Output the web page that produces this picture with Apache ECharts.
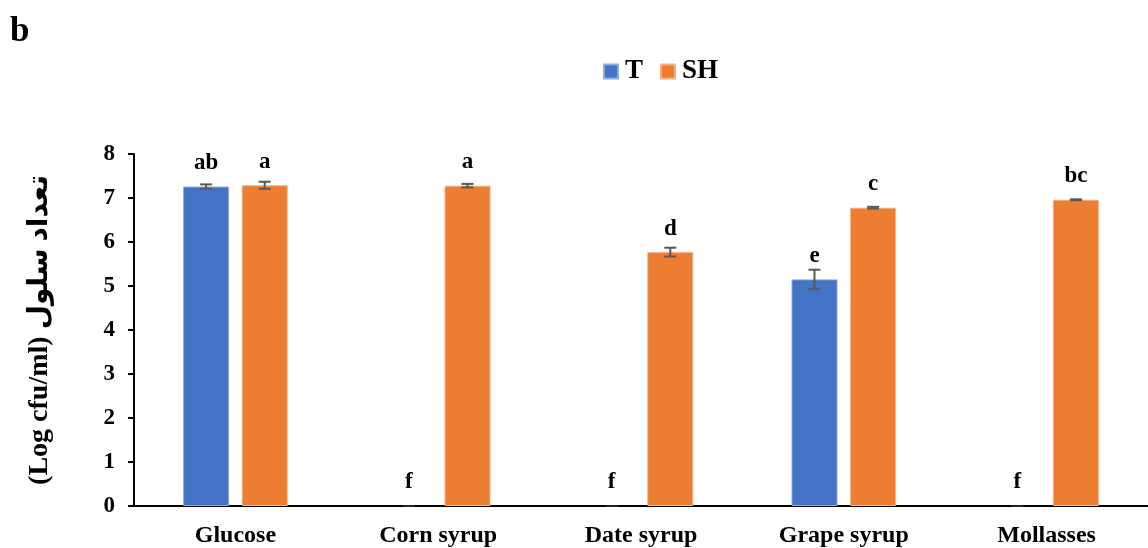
<!DOCTYPE html>
<html>
<head>
<meta charset="utf-8">
<script src="https://cdn.jsdelivr.net/npm/echarts@6/dist/echarts.min.js"></script>
<style>
html,body{margin:0;padding:0;background:#fff;}
#chart{width:1148px;height:548px;}
</style>
</head>
<body>
<div id="chart"></div>
<script>
// ---- data ----
const categories = ['Glucose', 'Corn syrup', 'Date syrup', 'Grape syrup', 'Mollasses'];
const seriesNames = ['T', 'SH'];
const valuesT  = [7.26, 0, 0, 5.15, 0];
const valuesSH = [7.29, 7.28, 5.77, 6.78, 6.96];
const errT  = [0.05, 0, 0, 0.22, 0];
const errSH = [0.08, 0.04, 0.10, 0.02, 0.01];
const lettersT  = ['ab', 'f', 'f', 'e', 'f'];
const lettersSH = ['a', 'a', 'd', 'c', 'bc'];
const yTicks = [0, 1, 2, 3, 4, 5, 6, 7, 8];
const panelLabel = 'b';
const yTitle = '(Log cfu/ml) تعداد سلول';

// ---- style ----
const FONT = "'Liberation Serif', 'Times New Roman', 'DejaVu Sans', serif";
const COLORS = ['#4472C4', '#ED7D31'];
const EDGE = ['#8FAADC', '#F4B183'];
const BAR_W = 46;
const BAR_GAP_PX = 12.6;
const OFFSET = (BAR_W + BAR_GAP_PX) / 2;

const chart = echarts.init(document.getElementById('chart'), null, {renderer: 'canvas'});

function errSeries(vals, errs, sign) {
  return {
    type: 'custom',
    silent: true,
    z: 5,
    data: vals.map((v, i) => [i, v, errs[i]]),
    renderItem: function (params, api) {
      const i = api.value(0), v = api.value(1), e = api.value(2);
      const x = api.coord([i, v])[0] + sign * OFFSET;
      const yHi = api.coord([i, v + e])[1];
      const yLo = api.coord([i, v - e])[1];
      const cap = 6;
      const st = {stroke: '#595959', lineWidth: 2, opacity: v === 0 ? 0.25 : 1};
      return {
        type: 'group',
        children: [
          {type: 'line', shape: {x1: x, y1: yHi, x2: x, y2: yLo}, style: st},
          {type: 'line', shape: {x1: x - cap, y1: yHi, x2: x + cap, y2: yHi}, style: st},
          {type: 'line', shape: {x1: x - cap, y1: yLo, x2: x + cap, y2: yLo}, style: st}
        ]
      };
    }
  };
}

function barSeries(idx, vals, letters) {
  return {
    name: seriesNames[idx],
    type: 'bar',
    data: vals.map(v => ({
      value: v,
      itemStyle: {borderWidth: v === 0 ? 0 : 1}
    })),
    barWidth: BAR_W,
    barGap: (BAR_GAP_PX / BAR_W * 100).toFixed(1) + '%',
    itemStyle: {color: COLORS[idx], borderColor: EDGE[idx], borderWidth: 1},
    label: {
      show: true,
      position: 'top',
      distance: 12,
      formatter: p => letters[p.dataIndex],
      fontFamily: FONT,
      fontWeight: 'bold',
      fontSize: 23,
      color: '#000'
    }
  };
}

const option = {
  animation: false,
  backgroundColor: '#fff',
  title: {
    text: panelLabel,
    left: 5,
    top: 9,
    textStyle: {fontFamily: FONT, fontWeight: 'bold', fontSize: 35, color: '#000'}
  },
  legend: {
    data: seriesNames,
    left: 598,
    top: 53,
    itemWidth: 14,
    itemHeight: 14,
    itemGap: 17,
    icon: 'rect',
    textStyle: {fontFamily: FONT, fontWeight: 'bold', fontSize: 27, color: '#000', padding: [0, 0, 0, 2]}
  },
  grid: {left: 134, right: -8, top: 154, bottom: 40, containLabel: false},
  xAxis: {
    type: 'category',
    data: categories,
    boundaryGap: true,
    axisLine: {lineStyle: {color: '#000', width: 2}},
    axisTick: {alignWithLabel: true, length: 5, lineStyle: {color: '#000', width: 2}},
    axisLabel: {fontFamily: FONT, fontWeight: 'bold', fontSize: 24, color: '#000', margin: 18}
  },
  yAxis: {
    type: 'value',
    min: yTicks[0],
    max: yTicks[yTicks.length - 1],
    interval: 1,
    name: yTitle,
    nameLocation: 'middle',
    nameRotate: 90,
    nameGap: 80,
    nameTextStyle: {fontFamily: FONT, fontWeight: 'bold', fontSize: 28, color: '#000'},
    splitLine: {show: false},
    axisLine: {show: true, lineStyle: {color: '#000', width: 2}},
    axisTick: {show: true, length: 6, lineStyle: {color: '#000', width: 2}},
    axisLabel: {fontFamily: FONT, fontWeight: 'bold', fontSize: 23, color: '#000', margin: 19}
  },
  series: [
    barSeries(0, valuesT, lettersT),
    barSeries(1, valuesSH, lettersSH),
    errSeries(valuesT, errT, -1),
    errSeries(valuesSH, errSH, 1)
  ]
};
chart.setOption(option);
</script>
</body>
</html>
